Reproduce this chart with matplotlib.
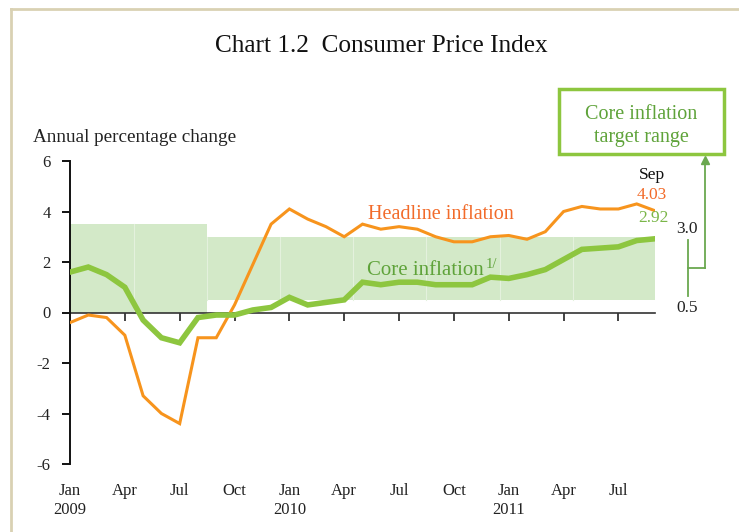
import matplotlib
matplotlib.use("Agg")
import matplotlib.pyplot as plt
from matplotlib.lines import Line2D
from matplotlib.patches import Rectangle

# ---- data ----
months = list(range(33))  # Jan 2009 .. Sep 2011
headline = [-0.4, -0.1, -0.2, -0.9, -3.3, -4.0, -4.4, -1.0, -1.0, 0.3, 1.9, 3.5,
            4.1, 3.7, 3.4, 3.0, 3.5, 3.3, 3.4, 3.3, 3.0, 2.8, 2.8, 3.0,
            3.05, 2.9, 3.2, 4.0, 4.2, 4.1, 4.1, 4.3, 4.03]
core = [1.6, 1.8, 1.5, 1.0, -0.3, -1.0, -1.2, -0.2, -0.1, -0.1, 0.1, 0.2,
        0.6, 0.3, 0.4, 0.5, 1.2, 1.1, 1.2, 1.2, 1.1, 1.1, 1.1, 1.4,
        1.35, 1.5, 1.7, 2.1, 2.5, 2.55, 2.6, 2.85, 2.92]
# target band segments (start month, end month, low, high)
band_start = [0, 3.5, 7.5, 11.5, 15.5, 19.5, 23.5, 27.5]
band_end = [3.5, 7.5, 11.5, 15.5, 19.5, 23.5, 27.5, 32]
band_low = [0, 0, 0.5, 0.5, 0.5, 0.5, 0.5, 0.5]
band_high = [3.5, 3.5, 3.0, 3.0, 3.0, 3.0, 3.0, 3.0]

xtick_pos = [0, 3, 6, 9, 12, 15, 18, 21, 24, 27, 30]
xtick_lab = ["Jan\n2009", "Apr", "Jul", "Oct", "Jan\n2010", "Apr", "Jul", "Oct",
             "Jan\n2011", "Apr", "Jul"]
ytick_pos = [6, 4, 2, 0, -2, -4, -6]
ytick_lab = ["6", "4", "2", "0", "-2", "-4", "-6"]

ORANGE = "#f7941d"
ORANGE_TXT = "#f26b2a"
GREEN = "#8dc63f"
GREEN_TXT = "#5fa33a"
BAND = "#d3e9c8"
SERIF = ["Liberation Serif", "DejaVu Serif"]

plt.rcParams["font.family"] = SERIF

fig = plt.figure(figsize=(7.39, 5.32), dpi=100)
W, H = 739, 532
L, R, T, B = 70, 655, 161, 464
ax = fig.add_axes([L / W, 1 - B / H, (R - L) / W, (B - T) / H])
ax.set_xlim(0, 32)
ax.set_ylim(-6, 6)
ax.patch.set_alpha(0)

# band
for i, (s, e, lo, hi) in enumerate(zip(band_start, band_end, band_low, band_high)):
    ax.add_patch(Rectangle((s, lo), e - s, hi - lo, facecolor=BAND,
                           edgecolor="none", zorder=1))
    if i > 0:
        ax.plot([s, s], [max(lo, band_low[i - 1]), min(hi, band_high[i - 1])],
                color="#e4f1dd", lw=0.8, zorder=1.5)

ax.plot(months, headline, color=ORANGE, lw=2.2, zorder=3, solid_joinstyle="miter")
ax.plot(months, core, color=GREEN, lw=4.0, zorder=4, solid_joinstyle="miter")

# spines
for s in ["top", "right"]:
    ax.spines[s].set_visible(False)
ax.spines["left"].set_linewidth(1.4)
ax.spines["left"].set_color("#111111")
ax.spines["bottom"].set_position(("data", 0))
ax.spines["bottom"].set_linewidth(1.2)
ax.spines["bottom"].set_color("#333333")
ax.spines["bottom"].set_zorder(2)

ax.set_xticks(xtick_pos[1:])
ax.tick_params(axis="x", direction="out", length=6, width=1.2, color="#222222",
               labelbottom=False)
ax.set_yticks(ytick_pos)
ax.set_yticklabels(ytick_lab)
ax.tick_params(axis="y", direction="out", length=6, width=1.4, color="#111111",
               labelsize=12, pad=8, labelcolor="#222222")

sec = ax.secondary_xaxis(0.0)
sec.set_xticks(xtick_pos)
sec.set_xticklabels(xtick_lab)
sec.tick_params(length=0, pad=14, labelsize=12, labelcolor="#222222")
sec.spines["bottom"].set_visible(False)
for lab in sec.get_xticklabels():
    lab.set_linespacing(1.25)
    lab.set_verticalalignment("top")

# texts
fig.text(381 / W, 1 - 46 / H, "Chart 1.2  Consumer Price Index", ha="center",
         va="center", fontsize=18.2, color="#111111")
fig.text(33 / W, 1 - 138 / H, "Annual percentage change", ha="left", va="center",
         fontsize=13.8, color="#222222")
ax.text(0.51, 0.825, "Headline inflation", transform=ax.transAxes, ha="left",
        va="center", fontsize=14.5, color=ORANGE_TXT)
core_txt = ax.text(0.507, 0.64, "Core inflation", transform=ax.transAxes, ha="left",
                   va="center", fontsize=15, color=GREEN_TXT)
ax.annotate("1/", xy=(1, 0.8), xycoords=core_txt, xytext=(2, 0),
            textcoords="offset points", ha="left", va="center", fontsize=10.5,
            color=GREEN_TXT)
ax.annotate("Sep", (months[-1], headline[-1]), xytext=(-2, 26),
            textcoords="offset points", ha="center", va="center", fontsize=12.5,
            color="#111111")
ax.annotate(f"{headline[-1]:.2f}", (months[-1], headline[-1]), xytext=(-2, 11.5),
            textcoords="offset points", ha="center", va="center", fontsize=12.5,
            color=ORANGE_TXT)
ax.annotate(f"{core[-1]:.2f}", (months[-1], core[-1]), xytext=(-1, 15),
            textcoords="offset points", ha="center", va="center", fontsize=12.5,
            color="#7ab648")

# band labels and bracket (outside axes)
ax.text(1.055, band_high[-1], "3.0", transform=ax.get_yaxis_transform(),
        ha="center", va="bottom", fontsize=12.5, color="#222222", clip_on=False)
ax.text(1.055, band_low[-1], "0.5", transform=ax.get_yaxis_transform(),
        ha="center", va="top", fontsize=12.5, color="#222222", clip_on=False)

bracket_col = "#6aa84f"
def fx(px):
    return px / W
def fy(py):
    return 1 - py / H

fig.add_artist(Line2D([fx(688), fx(688)], [fy(240), fy(296)], color=bracket_col, lw=1.3))
fig.add_artist(Line2D([fx(688), fx(705)], [fy(268), fy(268)], color=bracket_col, lw=1.3))
fig.add_artist(Line2D([fx(705), fx(705)], [fy(268), fy(162)], color=bracket_col, lw=1.3))
fig.add_artist(Line2D([fx(705)], [fy(160)], marker="^", markersize=6,
                      color=bracket_col, lw=0))

# box
fig.add_artist(Rectangle((fx(559), fy(154)), (724 - 559) / W, (154 - 89) / H,
                         facecolor="white", edgecolor=GREEN, lw=2.5))
fig.text(fx(641), fy(126), "Core inflation\ntarget range", ha="center", va="center",
         fontsize=14.5, color=GREEN_TXT, linespacing=1.3)

# outer frame
frame_col = "#d9d1b3"
fig.add_artist(Line2D([fx(10.5), fx(10.5)], [fy(8.5), fy(540)], color=frame_col, lw=2))
fig.add_artist(Line2D([fx(10.5), fx(740)], [fy(8.5), fy(8.5)], color=frame_col, lw=2))

fig.savefig("out.png", dpi=100)
